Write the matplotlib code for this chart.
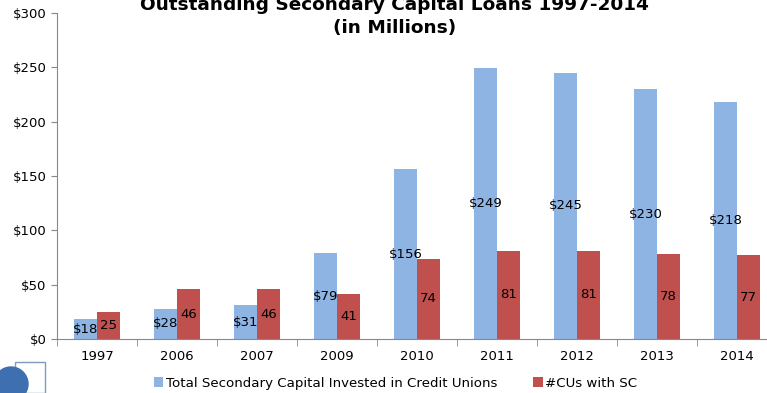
import numpy as np
import matplotlib.pyplot as plt
from matplotlib.patches import Ellipse, Rectangle

years = ["1997", "2006", "2007", "2009", "2010", "2011", "2012", "2013", "2014"]
capital = [18, 28, 31, 79, 156, 249, 245, 230, 218]
cu_count = [25, 46, 46, 41, 74, 81, 81, 78, 77]
yticks = [0, 50, 100, 150, 200, 250, 300]
title_lines = ["Outstanding Secondary Capital Loans 1997-2014", "(in Millions)"]

BLUE = "#8DB4E2"
RED = "#C0504D"


def main() -> None:
    fig = plt.figure(figsize=(7.67, 3.93), dpi=100)
    ax = fig.add_axes([57 / 767, 54 / 393, 720 / 767, 326 / 393])

    x = np.arange(len(years))
    w = 0.2875
    ax.bar(x - w / 2, capital, w, color=BLUE, label="Total Secondary Capital Invested in Credit Unions")
    ax.bar(x + w / 2, cu_count, w, color=RED, label="#CUs with SC")

    for xi, v in zip(x, capital):
        ax.text(xi - w / 2, v / 2, f"${v}", ha="center", va="center", fontsize=9.5)
    for xi, v in zip(x, cu_count):
        ax.text(xi + w / 2, v / 2, f"{v}", ha="center", va="center", fontsize=9.5)

    ax.set_xlim(-0.5, len(years) - 0.5)
    ax.set_ylim(0, 300)
    ax.set_yticks(yticks)
    ax.set_yticklabels([f"${t}" for t in yticks], fontsize=9.5)
    ax.set_xticks(x)
    ax.set_xticklabels(years, fontsize=9.5)
    ax.set_xticks(np.arange(len(years) + 1) - 0.5, minor=True)
    ax.tick_params(axis="x", which="major", length=0, pad=8)
    ax.tick_params(axis="x", which="minor", length=5, color="#888888")
    ax.tick_params(axis="y", length=4, color="#888888")
    for side in ["top", "right"]:
        ax.spines[side].set_visible(False)
    for side in ["left", "bottom"]:
        ax.spines[side].set_color("#888888")

    # two-line title, each line on its own baseline
    for line, base_px in zip(title_lines, [10, 33]):
        fig.text(0.514, 1 - base_px / 393, line, ha="center", va="baseline",
                 fontsize=13.3, fontweight="bold")

    fig.legend(loc="center", bbox_to_anchor=(0.516, 0.025), ncol=2, frameon=False,
               fontsize=9.6, handlelength=0.7, handleheight=0.7, handletextpad=0.2,
               columnspacing=2.7)

    # small globe logo in the corner
    fig.patches.append(Rectangle((15 / 767, 0.0), 30 / 767, 31 / 393, transform=fig.transFigure,
                                 fill=False, edgecolor="#7F9CC0", linewidth=1))
    fig.patches.append(Ellipse((11 / 767, 1 - 384 / 393), 34 / 767, 34 / 393,
                               transform=fig.transFigure, color="#3E6FB0"))

    fig.savefig("out.png", dpi=100)


if __name__ == "__main__":
    main()
